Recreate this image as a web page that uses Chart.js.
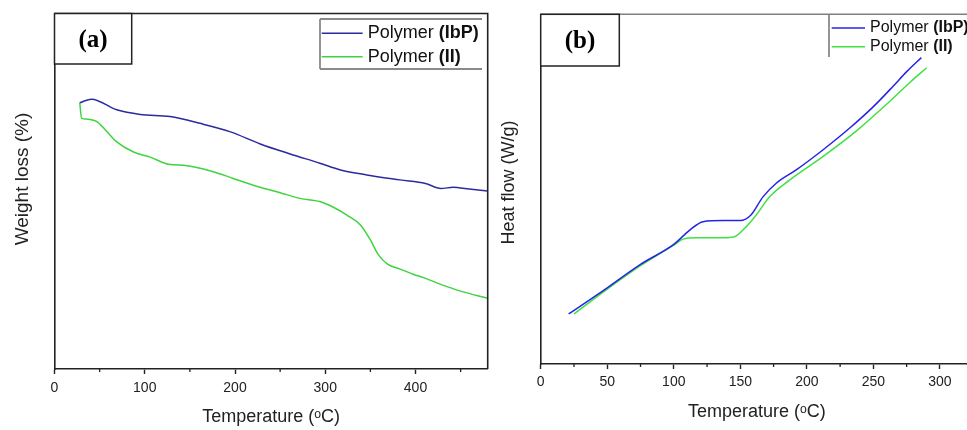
<!DOCTYPE html>
<html>
<head>
<meta charset="utf-8">
<script src="https://cdn.jsdelivr.net/npm/chart.js@4.4.1/dist/chart.umd.min.js"></script>
<style>
  html, body { margin: 0; padding: 0; background: #fff; overflow: hidden; }
  body { position: relative; width: 967px; height: 430px; }
  canvas { position: absolute; top: 0; }
  #tga { left: 0; }
  #dsc { left: 480px; }
</style>
</head>
<body>
<canvas id="tga" width="490" height="430"></canvas>
<canvas id="dsc" width="497" height="430"></canvas>
<script>
// (a) TGA curves: temperature in °C, weight in arbitrary % units (no y ticks shown)
const tgaTempIbP   = [28, 41, 69, 95, 128, 161, 195, 228, 261, 294, 317, 346, 383, 411, 428, 442, 457, 480];
const tgaWeightIbP = [74.9, 75.9, 72.9, 71.6, 71.0, 69.1, 66.7, 63.3, 60.5, 57.9, 56.0, 54.6, 53.2, 52.2, 50.8, 51.1, 50.7, 50.1];
const tgaTempII    = [28, 30, 35, 39, 47, 58, 69, 87, 106, 128, 143, 176, 198, 228, 250, 272, 294, 309, 324, 339, 350, 359, 369, 383, 398, 409, 428, 450, 480];
const tgaWeightII  = [74.9, 70.5, 70.3, 70.2, 69.6, 66.8, 63.9, 61.1, 59.6, 57.5, 57.3, 55.5, 53.6, 51.1, 49.6, 48.0, 47.1, 45.5, 43.3, 40.5, 36.3, 32.1, 29.5, 28.1, 26.6, 25.7, 23.8, 21.9, 19.9];

// (b) DSC curves: temperature in °C, heat flow in arbitrary units
const dscTempIbP = [21, 50, 75, 100, 112, 122, 137, 150, 158, 167, 177, 192, 212, 232, 250, 265, 275, 286];
const dscHeatIbP = [14.3, 21.8, 28.5, 34.2, 38.3, 40.7, 41.0, 41.0, 42.6, 47.8, 51.7, 55.5, 61.2, 67.4, 73.6, 79.5, 83.6, 87.6];
const dscTempII  = [25, 50, 75, 100, 107, 117, 137, 145, 152, 162, 172, 187, 212, 238, 262, 278, 290];
const dscHeatII  = [14.3, 21.4, 28.1, 34.0, 35.7, 36.1, 36.1, 36.3, 38.3, 42.6, 47.8, 52.6, 59.3, 66.9, 75.0, 80.7, 84.7];

const seriesLabels = ['Polymer (IbP)', 'Polymer (II)'];

const tgaMajorTicks = [0, 100, 200, 300, 400];
const tgaMinorTicks = [50, 150, 250, 350, 450];
const dscMajorTicks = [0, 50, 100, 150, 200, 250, 300];
const dscMinorTicks = [25, 75, 125, 175, 225, 275];

const SANS = '"Liberation Sans", Arial, "DejaVu Sans", sans-serif';
const SERIF = '"Liberation Serif", "Times New Roman", serif';

const toPoints = (xs, ys) => xs.map((x, i) => ({ x: x, y: ys[i] }));

// frame edges, minor ticks, y title, the (a)/(b) tag and the legend
const panelDecor = {
  id: 'panelDecor',
  afterDatasetsDraw(chart, args, opts) {
    const ctx = chart.ctx;
    const { left, top, right, bottom } = chart.chartArea;
    const xs = chart.scales.x;
    ctx.save();

    // top (and right) edge of the plot frame
    ctx.lineWidth = 1.6;
    ctx.strokeStyle = opts.frameColor;
    ctx.beginPath();
    ctx.moveTo(left, top);
    ctx.lineTo(opts.frameRight, top);
    if (opts.rightEdge) ctx.lineTo(right, bottom);
    ctx.stroke();

    // short minor ticks below the x axis
    ctx.strokeStyle = '#222';
    ctx.lineWidth = 1.3;
    ctx.beginPath();
    opts.minorTicks.forEach(v => {
      const px = xs.getPixelForValue(v);
      ctx.moveTo(px, bottom);
      ctx.lineTo(px, bottom + 3);
    });
    ctx.stroke();

    // rotated y axis title, sitting a little above the middle
    const yt = opts.yTitle;
    ctx.save();
    ctx.translate(yt.x, yt.y);
    ctx.rotate(-Math.PI / 2);
    ctx.fillStyle = '#222';
    ctx.font = yt.size + 'px ' + SANS;
    ctx.textAlign = 'center';
    ctx.textBaseline = 'middle';
    ctx.fillText(yt.text, 0, 0);
    ctx.restore();

    // legend
    const lg = opts.legend;
    ctx.fillStyle = '#fff';
    ctx.fillRect(lg.x0, lg.y0, lg.x1 - lg.x0, lg.y1 - lg.y0);
    ctx.strokeStyle = '#8a8a8a';
    ctx.lineWidth = 1.8;
    ctx.beginPath();
    ctx.moveTo(lg.x0, lg.y0);
    ctx.lineTo(lg.x0, lg.y1);
    if (lg.edges) {
      ctx.moveTo(lg.x0, lg.y0); ctx.lineTo(lg.x1, lg.y0);
      ctx.moveTo(lg.x0, lg.y1); ctx.lineTo(lg.x1, lg.y1);
    }
    ctx.stroke();
    ctx.textBaseline = 'middle';
    ctx.textAlign = 'left';
    chart.data.datasets.forEach((ds, i) => {
      const y = lg.rowY[i];
      ctx.strokeStyle = ds.borderColor;
      ctx.lineWidth = 1.5;
      ctx.beginPath();
      ctx.moveTo(lg.sampleX0, y);
      ctx.lineTo(lg.sampleX1, y);
      ctx.stroke();
      const cut = ds.label.indexOf('(');
      const plain = ds.label.slice(0, cut);
      const bold = ds.label.slice(cut);
      ctx.fillStyle = '#111';
      ctx.font = lg.fontSize + 'px ' + SANS;
      ctx.fillText(plain, lg.textX, y);
      const w = ctx.measureText(plain).width;
      ctx.font = 'bold ' + lg.fontSize + 'px ' + SANS;
      ctx.fillText(bold, lg.textX + w, y);
    });

    // panel tag box
    const tb = opts.tagBox;
    ctx.fillStyle = '#fff';
    ctx.fillRect(tb.x0, tb.y0, tb.x1 - tb.x0, tb.y1 - tb.y0);
    ctx.strokeStyle = '#222';
    ctx.lineWidth = 1.5;
    ctx.strokeRect(tb.x0, tb.y0, tb.x1 - tb.x0, tb.y1 - tb.y0);
    ctx.fillStyle = '#000';
    ctx.font = 'bold 25px ' + SERIF;
    ctx.textAlign = 'center';
    ctx.textBaseline = 'middle';
    ctx.fillText(opts.tag, (tb.x0 + tb.x1) / 2, tb.textY);

    ctx.restore();
  }
};

function makeChart(id, cfg) {
  return new Chart(document.getElementById(id), {
    type: 'line',
    data: {
      datasets: cfg.series.map((s, i) => ({
        label: seriesLabels[i],
        data: s.points,
        borderColor: s.color,
        borderWidth: 1.5,
        pointRadius: 0,
        cubicInterpolationMode: 'monotone',
        fill: false
      }))
    },
    options: {
      responsive: false,
      animation: false,
      events: [],
      layout: { padding: cfg.padding },
      scales: {
        x: {
          type: 'linear',
          min: 0,
          max: cfg.xMax,
          afterBuildTicks: scale => { scale.ticks = cfg.majorTicks.map(v => ({ value: v })); },
          afterFit: scale => { scale.height = cfg.xAxisHeight; },
          grid: { drawOnChartArea: false, tickLength: 5, tickColor: '#222', tickWidth: 1.4 },
          border: { color: '#222', width: 1.6 },
          ticks: { color: '#222', padding: cfg.tickPad, font: { family: SANS, size: 14 }, maxRotation: 0 },
          title: {
            display: true,
            text: 'Temperature (ᵒC)',
            color: '#222',
            font: { family: SANS, size: 18 },
            padding: { top: 0, bottom: cfg.xTitlePad }
          }
        },
        y: {
          min: 0,
          max: 100,
          afterFit: scale => { scale.width = cfg.yAxisWidth; },
          grid: { display: false },
          border: { color: '#222', width: 1.6 },
          ticks: { display: false },
          title: { display: false }
        }
      },
      plugins: {
        legend: { display: false },
        tooltip: { enabled: false },
        panelDecor: cfg.decor
      }
    },
    plugins: [panelDecor]
  });
}

makeChart('tga', {
  series: [
    { points: toPoints(tgaTempIbP, tgaWeightIbP), color: '#2b2ba0' },
    { points: toPoints(tgaTempII, tgaWeightII), color: '#3fd43f' }
  ],
  xMax: 480,
  majorTicks: tgaMajorTicks,
  padding: { left: 0, top: 13.5, right: 2.3, bottom: 0 },
  yAxisWidth: 54.5,
  xAxisHeight: 61,
  tickPad: 6,
  xTitlePad: 2.5,
  decor: {
    tag: '(a)',
    tagBox: { x0: 54.5, y0: 13.5, x1: 131.7, y1: 64, textY: 40.5 },
    frameColor: '#222',
    frameRight: 487.7,
    rightEdge: true,
    minorTicks: tgaMinorTicks,
    yTitle: { text: 'Weight loss (%)', x: 23, y: 179, size: 19 },
    legend: {
      x0: 320, y0: 19, x1: 482, y1: 69, edges: true,
      rowY: [33.3, 56.7], sampleX0: 321.7, sampleX1: 362.7, textX: 367.7, fontSize: 18
    }
  }
});

makeChart('dsc', {
  series: [
    { points: toPoints(dscTempIbP, dscHeatIbP), color: '#2424e6' },
    { points: toPoints(dscTempII, dscHeatII), color: '#42e042' }
  ],
  xMax: 325,
  majorTicks: dscMajorTicks,
  padding: { left: 0, top: 14.3, right: 3.8, bottom: 0 },
  yAxisWidth: 60.7,
  xAxisHeight: 66,
  tickPad: 5,
  xTitlePad: 7.5,
  decor: {
    tag: '(b)',
    tagBox: { x0: 60.7, y0: 14.3, x1: 139.3, y1: 66, textY: 41.5 },
    frameColor: '#808080',
    frameRight: 497,
    rightEdge: false,
    minorTicks: dscMinorTicks,
    yTitle: { text: 'Heat flow (W/g)', x: 29, y: 182.5, size: 18 },
    legend: {
      x0: 349, y0: 15, x1: 497, y1: 57, edges: false,
      rowY: [28, 46.7], sampleX0: 351.7, sampleX1: 385, textX: 390, fontSize: 16
    }
  }
});
</script>
</body>
</html>
